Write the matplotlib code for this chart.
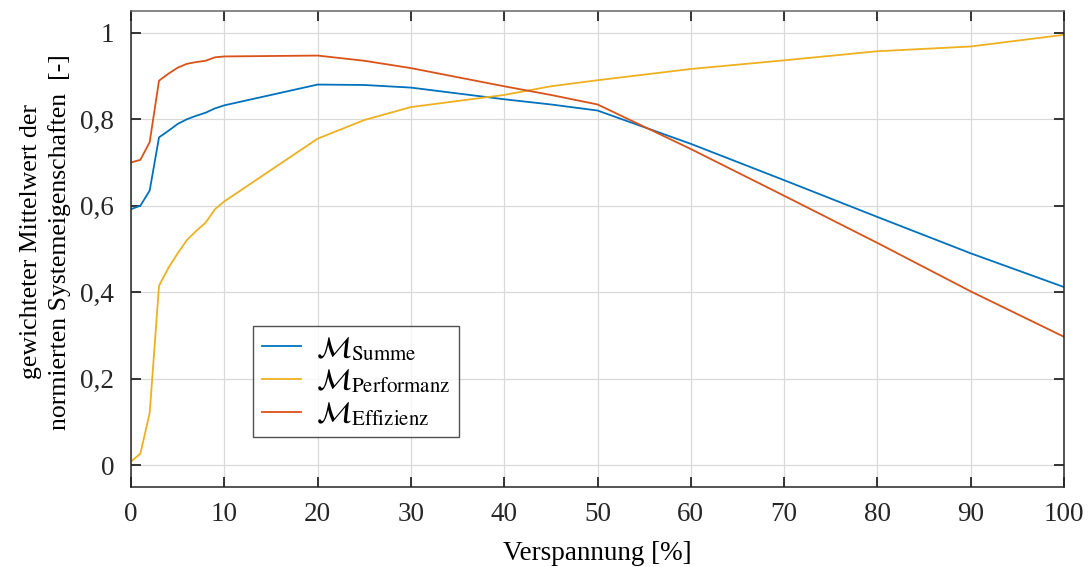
import matplotlib
matplotlib.use("Agg")
import matplotlib.pyplot as plt
from matplotlib.ticker import FuncFormatter

# Strain levels [%] and weighted mean of normalised system properties
verspannung = [0, 1, 2, 3, 4, 5, 6, 7, 8, 9, 10, 20, 25, 30, 40, 45, 50, 60, 70, 80, 90, 100]
m_summe = [0.592, 0.600, 0.635, 0.758, 0.773, 0.789, 0.800, 0.808, 0.815, 0.825, 0.832,
           0.880, 0.879, 0.873, 0.846, 0.834, 0.820, 0.743, 0.659, 0.574, 0.490, 0.412]
m_performanz = [0.009, 0.027, 0.121, 0.415, 0.456, 0.490, 0.521, 0.542, 0.561, 0.592, 0.610,
                0.755, 0.798, 0.828, 0.856, 0.876, 0.890, 0.916, 0.936, 0.957, 0.968, 0.995]
m_effizienz = [0.700, 0.706, 0.747, 0.889, 0.905, 0.919, 0.928, 0.932, 0.935, 0.943, 0.945,
               0.947, 0.935, 0.918, 0.876, 0.856, 0.834, 0.731, 0.623, 0.514, 0.402, 0.297]

x_ticks = [0, 10, 20, 30, 40, 50, 60, 70, 80, 90, 100]
y_ticks = [0, 0.2, 0.4, 0.6, 0.8, 1.0]

plt.rcParams["font.family"] = ["Liberation Serif", "DejaVu Serif"]
plt.rcParams["mathtext.fontset"] = "stix"

fig = plt.figure(figsize=(10.91, 5.67), dpi=100)
ax = fig.add_axes([0.1201, 0.1411, 0.8552, 0.8395])

ax.plot(verspannung, m_summe, color="#0072BD", lw=1.3,
        label=r"$\mathcal{M}_{\mathrm{Summe}}$")
ax.plot(verspannung, m_performanz, color="#EDB120", lw=1.3,
        label=r"$\mathcal{M}_{\mathrm{Performanz}}$")
ax.plot(verspannung, m_effizienz, color="#D95319", lw=1.3,
        label=r"$\mathcal{M}_{\mathrm{Effizienz}}$")

ax.set_xlim(0, 100)
ax.set_ylim(-0.05, 1.05)
ax.set_xticks(x_ticks)
ax.set_yticks(y_ticks)


def komma(v, pos):
    s = f"{v:.1f}".rstrip("0").rstrip(".")
    return s.replace(".", ",")


ax.yaxis.set_major_formatter(FuncFormatter(komma))
ax.xaxis.set_major_formatter(FuncFormatter(lambda v, p: f"{int(v)}"))

ax.grid(True, color="#d9d9d9", lw=0.9)
ax.set_axisbelow(True)
ax.tick_params(direction="in", length=7, width=1.3, colors="#262626",
               labelsize=19.5, top=True, right=True)
ax.tick_params(axis="x", pad=11)
ax.tick_params(axis="y", pad=12)
for side in ["left", "right", "bottom"]:
    ax.spines[side].set_color("#262626")
    ax.spines[side].set_linewidth(1.1)
ax.spines["top"].set_color("#666666")
ax.spines["top"].set_linewidth(1.1)

ax.set_xlabel("Verspannung [%]", fontsize=19.5, labelpad=10)
ax.set_ylabel("gewichteter Mittelwert der\nnormierten Systemeigenschaften  [-]",
              fontsize=18.5, linespacing=1.35)
ax.yaxis.set_label_coords(-0.0645, 0.515)

leg = ax.legend(loc="lower left", bbox_to_anchor=(0.131, 0.105), fontsize=21.5,
                frameon=True, fancybox=False, edgecolor="#262626",
                handlelength=1.3, borderpad=0.3, labelspacing=0.16,
                handletextpad=0.5, borderaxespad=0)
leg.get_frame().set_linewidth(1.0)

fig.savefig("out.png", dpi=100)
